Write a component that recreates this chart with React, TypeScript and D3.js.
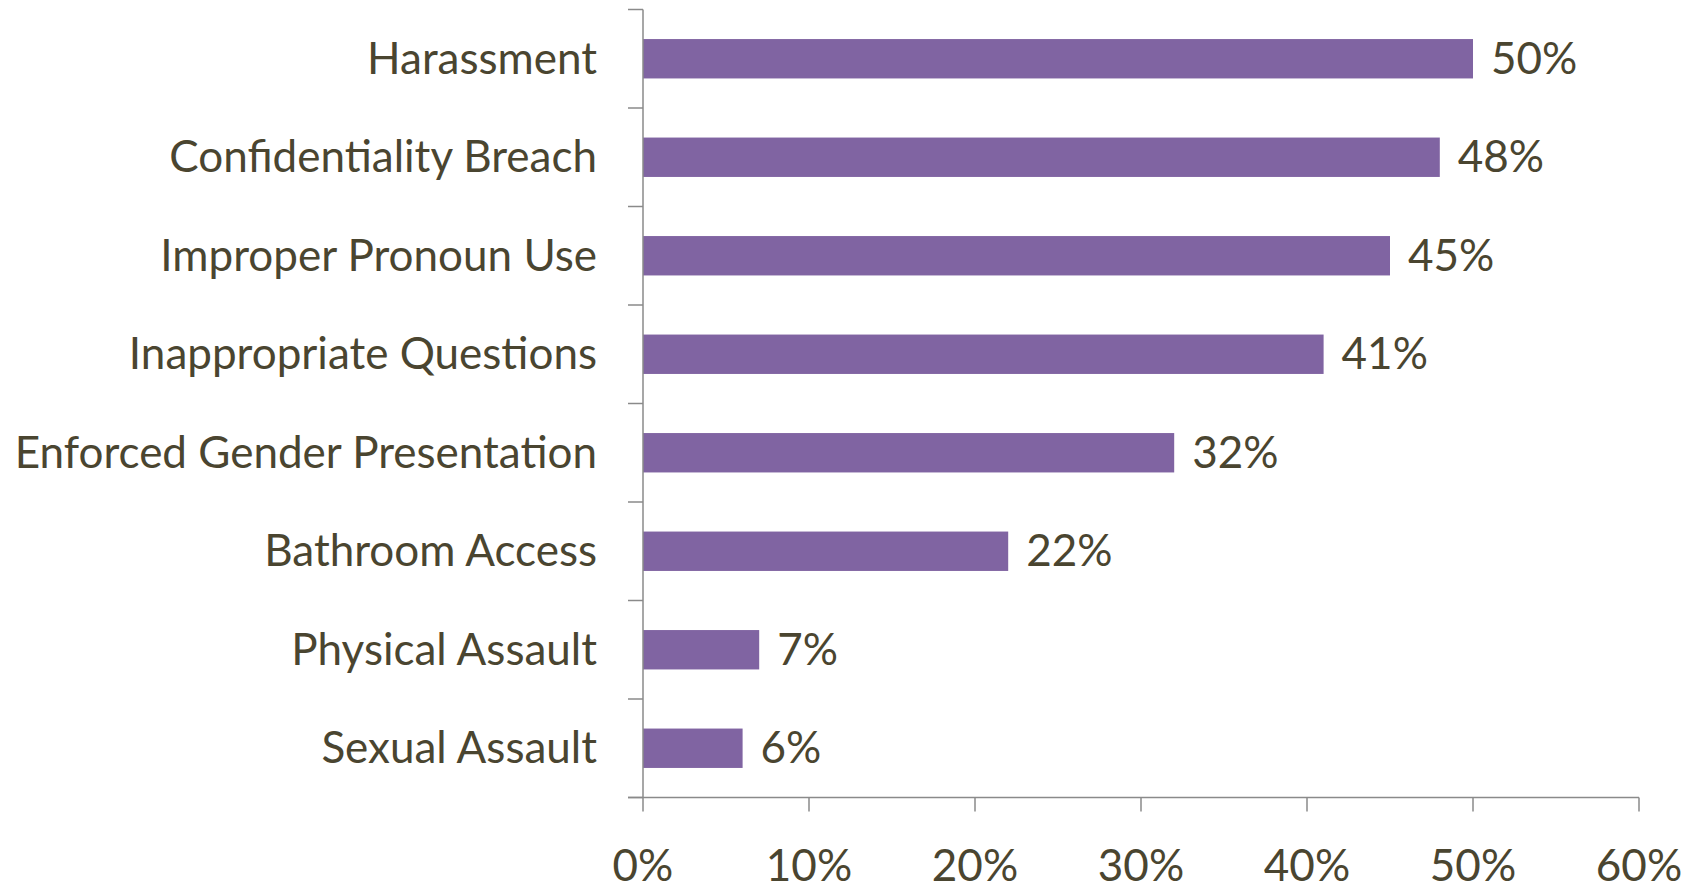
import React from "react";
import * as d3 from "d3";

const categories = [
  "Harassment",
  "Confidentiality Breach",
  "Improper Pronoun Use",
  "Inappropriate Questions",
  "Enforced Gender Presentation",
  "Bathroom Access",
  "Physical Assault",
  "Sexual Assault",
];
const values = [0.5, 0.48, 0.45, 0.41, 0.32, 0.22, 0.07, 0.06];
const xTicks = [0, 0.1, 0.2, 0.3, 0.4, 0.5, 0.6];

const W = 1696;
const H = 892;
const FONT = "Lato, 'Open Sans', sans-serif";
const FS = 44;
const TEXT = "#4a4530";
const AXIS = "#8a8a8a";
const BAR = "#8064a2";

export default function App() {
  const x = d3.scaleLinear().domain([0, 0.6]).range([643, 1639]);
  const y = d3
    .scaleBand<string>()
    .domain(categories)
    .range([9.5, 797.5])
    .paddingInner(0.6)
    .paddingOuter(0.3);
  const step = y.step();
  const bounds = d3.range(categories.length + 1).map((i) => 9.5 + i * step);
  const fmt = d3.format(".0%");
  const capOff = FS * 0.345;
  const axisY = 797.5;

  return (
    <svg
      width={W}
      height={H}
      style={{ position: "absolute", left: 0, top: 0, background: "#fff" }}
      fontFamily={FONT}
    >
      {categories.map((c, i) => (
        <rect
          key={c}
          x={x(0)}
          y={y(c)!}
          width={x(values[i]) - x(0)}
          height={y.bandwidth()}
          fill={BAR}
        />
      ))}
      {/* category axis */}
      <line x1={x(0)} x2={x(0)} y1={bounds[0]} y2={axisY} stroke={AXIS} strokeWidth={1.5} />
      {bounds.map((b, i) => (
        <line key={i} x1={x(0) - 15} x2={x(0)} y1={b} y2={b} stroke={AXIS} strokeWidth={1.5} />
      ))}
      {/* value axis */}
      <line x1={x(0) - 15} x2={x(0.6)} y1={axisY} y2={axisY} stroke={AXIS} strokeWidth={1.5} />
      {xTicks.map((t) => (
        <line key={t} x1={x(t)} x2={x(t)} y1={axisY} y2={axisY + 14} stroke={AXIS} strokeWidth={1.5} />
      ))}
      {xTicks.map((t) => (
        <text
          key={"l" + t}
          x={x(t)}
          y={881}
          textAnchor="middle"
          fontSize={FS}
          fill={TEXT}
        >
          {fmt(t)}
        </text>
      ))}
      {categories.map((c) => (
        <text
          key={"c" + c}
          x={597}
          y={y(c)! + y.bandwidth() / 2 + capOff}
          textAnchor="end"
          fontSize={FS}
          fill={TEXT}
        >
          {c}
        </text>
      ))}
      {categories.map((c, i) => (
        <text
          key={"v" + c}
          x={x(values[i]) + 18}
          y={y(c)! + y.bandwidth() / 2 + capOff}
          fontSize={FS}
          fill={TEXT}
        >
          {fmt(values[i])}
        </text>
      ))}
    </svg>
  );
}
